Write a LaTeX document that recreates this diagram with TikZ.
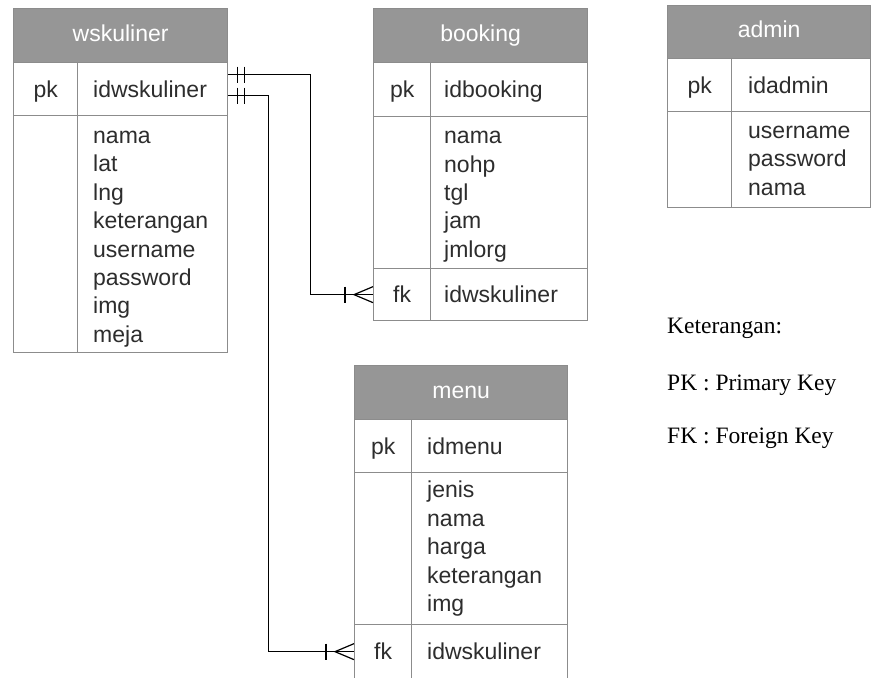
\documentclass[tikz,border=0pt]{standalone}
\usepackage{fontspec}
\setmainfont{Liberation Sans}
\newfontfamily\legendfont{Liberation Serif}
\definecolor{tblfill}{RGB}{150,150,150}
\definecolor{tblline}{RGB}{140,140,140}
\definecolor{tbltext}{RGB}{45,45,45}
\newcommand{\tabfont}{\fontsize{23}{28.4}\selectfont}
\begin{document}
\begin{tikzpicture}[x=1pt,y=-1pt,
  tblhead/.style={draw=tblline, fill=tblfill, text=white, line width=1.3pt,
    inner sep=0pt, anchor=north west, font=\tabfont, text height=16.5pt, text depth=5pt},
  keycell/.style={draw=tblline, fill=white, text=tbltext, line width=1.3pt,
    inner sep=0pt, anchor=north west, font=\tabfont, text height=18.5pt, text depth=2.5pt},
  fieldline/.style={anchor=west, inner sep=0pt, font=\tabfont, text=tbltext,
    text height=18.5pt, text depth=2.5pt},
  fieldtext/.style={anchor=west, align=left, inner sep=0pt, font=\tabfont, text=tbltext},
  rel/.style={draw=black, line width=1.2pt},
  legend/.style={anchor=west, inner sep=0pt, font=\legendfont\fontsize{23.5}{28}\selectfont}]
\useasboundingbox (0,0) rectangle (872,677);
\clip (0,0) rectangle (872,677);

% ---- wskuliner ----
\node[tblhead, minimum width=214pt, minimum height=54pt] (w-hd) at (13,8) {wskuliner};
\node[keycell, minimum width=64pt, minimum height=53pt] (w-pk) at (13,62) {pk};
\node[keycell, minimum width=150pt, minimum height=53pt] (w-pkf) at (77,62) {};
\node[fieldline] (w-pkt) at ([xshift=16pt]w-pkf.west) {idwskuliner};
\node[keycell, minimum width=64pt, minimum height=237pt] (w-bk) at (13,115) {};
\node[keycell, minimum width=150pt, minimum height=237pt] (w-bf) at (77,115) {};
\node[fieldtext] (w-bt) at ([xshift=16pt,yshift=-5pt]w-bf.west)
  {nama\\lat\\lng\\keterangan\\username\\password\\img\\meja};

% ---- booking ----
\node[tblhead, minimum width=214pt, minimum height=54pt] (b-hd) at (373,8) {booking};
\node[keycell, minimum width=57pt, minimum height=54pt] (b-pk) at (373,62) {pk};
\node[keycell, minimum width=157pt, minimum height=54pt] (b-pkf) at (430,62) {};
\node[fieldline] (b-pkt) at ([xshift=14pt]b-pkf.west) {idbooking};
\node[keycell, minimum width=57pt, minimum height=152pt] (b-bk) at (373,116) {};
\node[keycell, minimum width=157pt, minimum height=152pt] (b-bf) at (430,116) {};
\node[fieldtext] (b-bt) at ([xshift=14pt,yshift=-4pt]b-bf.west) {nama\\nohp\\tgl\\jam\\jmlorg};
\node[keycell, minimum width=57pt, minimum height=52pt] (b-fk) at (373,268) {fk};
\node[keycell, minimum width=157pt, minimum height=52pt] (b-fkf) at (430,268) {};
\node[fieldline] (b-fkt) at ([xshift=14pt]b-fkf.west) {idwskuliner};

% ---- admin ----
\node[tblhead, minimum width=203pt, minimum height=53pt] (a-hd) at (667,5) {admin};
\node[keycell, minimum width=64pt, minimum height=53pt] (a-pk) at (667,58) {pk};
\node[keycell, minimum width=139pt, minimum height=53pt] (a-pkf) at (731,58) {};
\node[fieldline] (a-pkt) at ([xshift=17pt]a-pkf.west) {idadmin};
\node[keycell, minimum width=64pt, minimum height=96pt] (a-bk) at (667,111) {};
\node[keycell, minimum width=139pt, minimum height=96pt] (a-bf) at (731,111) {};
\node[fieldtext] (a-bt) at ([xshift=17pt,yshift=-1pt]a-bf.west) {username\\password\\nama};

% ---- menu ----
\node[tblhead, minimum width=213pt, minimum height=54pt] (m-hd) at (354,365) {menu};
\node[keycell, minimum width=57pt, minimum height=53pt] (m-pk) at (354,419) {pk};
\node[keycell, minimum width=156pt, minimum height=53pt] (m-pkf) at (411,419) {};
\node[fieldline] (m-pkt) at ([xshift=16pt]m-pkf.west) {idmenu};
\node[keycell, minimum width=57pt, minimum height=152pt] (m-bk) at (354,472) {};
\node[keycell, minimum width=156pt, minimum height=152pt] (m-bf) at (411,472) {};
\node[fieldtext] (m-bt) at ([xshift=16pt]m-bf.west) {jenis\\nama\\harga\\keterangan\\img};
\node[keycell, minimum width=57pt, minimum height=54pt] (m-fk) at (354,624) {fk};
\node[keycell, minimum width=156pt, minimum height=54pt] (m-fkf) at (411,624) {};
\node[fieldline] (m-fkt) at ([xshift=16pt]m-fkf.west) {idwskuliner};

% ---- relationships ----
% wskuliner (one) -- booking (many)
\draw[rel] ([yshift=14.5pt]w-pkf.east) -- ++(82pt,0pt) |- (b-fk.west);
\draw[rel] ([xshift=9pt,yshift=22.5pt]w-pkf.east) -- ++(0pt,-16pt);
\draw[rel] ([xshift=16pt,yshift=22.5pt]w-pkf.east) -- ++(0pt,-16pt);
\draw[rel] ([xshift=-28pt,yshift=8pt]b-fk.west) -- ++(0pt,-16pt);
\draw[rel] ([yshift=8pt]b-fk.west) -- ([xshift=-19pt]b-fk.west) -- ([yshift=-8pt]b-fk.west);

% wskuliner (one) -- menu (many)
\draw[rel] ([yshift=-6.5pt]w-pkf.east) -- ++(40pt,0pt) |- (m-fk.west);
\draw[rel] ([xshift=9pt,yshift=1.5pt]w-pkf.east) -- ++(0pt,-16pt);
\draw[rel] ([xshift=16pt,yshift=1.5pt]w-pkf.east) -- ++(0pt,-16pt);
\draw[rel] ([xshift=-28pt,yshift=8pt]m-fk.west) -- ++(0pt,-16pt);
\draw[rel] ([yshift=8pt]m-fk.west) -- ([xshift=-19pt]m-fk.west) -- ([yshift=-8pt]m-fk.west);

% ---- legend ----
\node[legend] (k-title) at (667,328) {Keterangan:};
\node[legend] (k-pk) at (667,385) {PK : Primary Key};
\node[legend] (k-fk) at (667,438) {FK : Foreign Key};
\end{tikzpicture}
\end{document}
